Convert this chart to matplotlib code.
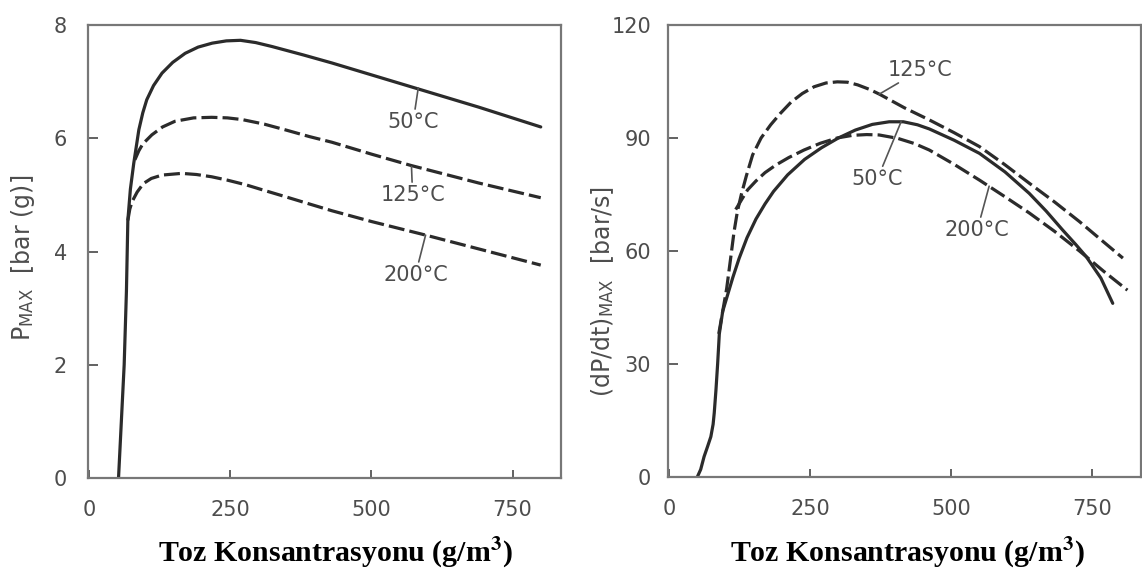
import matplotlib
matplotlib.use("Agg")
import matplotlib.pyplot as plt

plt.rcParams['mathtext.fontset'] = 'stix'

# Maksimum basınç (bar) - toz konsantrasyonu (g/m3)
p50_x = [52, 57, 62, 66, 68.5, 73, 79, 88, 95, 102, 114, 129, 148, 170, 193, 218,
         243, 268, 295, 324, 380, 430, 500, 580, 690, 800]
p50_y = [0, 1.0, 2.0, 3.3, 4.55, 5.1, 5.56, 6.15, 6.45, 6.68, 6.93, 7.15, 7.34, 7.5,
         7.61, 7.68, 7.72, 7.73, 7.69, 7.62, 7.47, 7.33, 7.12, 6.88, 6.55, 6.2]

p125_x = [81, 88, 95, 111, 130, 152, 185, 217, 245, 271, 310, 347, 390, 430, 500,
          570, 690, 800]
p125_y = [5.62, 5.78, 5.9, 6.06, 6.2, 6.3, 6.36, 6.37, 6.36, 6.33, 6.25, 6.15, 6.03,
          5.93, 5.72, 5.52, 5.21, 4.95]

p200_x = [68.5, 72, 76, 85, 96, 110, 129, 164, 190, 217, 245, 277, 310, 347, 390,
          430, 500, 596, 700, 800]
p200_y = [4.55, 4.75, 4.88, 5.05, 5.2, 5.29, 5.35, 5.38, 5.36, 5.32, 5.26, 5.18, 5.08,
          4.97, 4.84, 4.72, 4.53, 4.29, 4.02, 3.76]

# Maksimum basınç artış hızı (bar/s)
r50_x = [50, 56, 62, 68, 74, 78, 80, 83, 86, 89, 95, 103, 113, 124, 138, 154, 170,
         185, 210, 240, 270, 300, 330, 360, 390, 415, 440, 461, 505, 550, 595, 638,
         668, 697, 720, 739, 765, 786]
r50_y = [0, 2, 5.4, 8, 10.7, 14, 17, 23, 30, 38, 44, 48, 53, 58, 63.5, 68.5, 72.5,
         75.8, 80.2, 84.3, 87.4, 90, 92.1, 93.6, 94.3, 94.3, 93.5, 92.4, 89.4, 85.9,
         81, 75.3, 70.6, 65.6, 61.8, 58.5, 52.8, 46.1]

r125_x = [88, 95, 102, 109, 115, 121, 128, 137, 148, 163, 180, 197, 216, 236, 257,
          278, 298, 316, 334, 355, 373, 395, 417, 461, 505, 550, 594, 638, 683, 727,
          765, 804]
r125_y = [38, 44, 50, 58, 65, 70.5, 75, 80, 85.5, 90, 93.5, 96.5, 99.5, 101.8,
          103.6, 104.6, 104.9, 104.8, 104.1, 102.9, 101.6, 99.8, 98, 94.8, 91.4,
          87.7, 83, 78, 73, 67.8, 63, 58.1]

r200_x = [118, 130, 139, 154, 170, 189, 212, 239, 268, 298, 325, 350, 372, 405,
          435, 461, 505, 550, 595, 638, 683, 727, 770, 812]
r200_y = [71, 74, 76.2, 78.6, 80.8, 82.8, 84.8, 86.8, 88.6, 90.0, 90.7, 90.9,
          90.8, 89.9, 88.5, 86.8, 83, 78.8, 74.4, 70.1, 65.2, 60.0, 54.6, 49.6]

x_ticks = [0, 250, 500, 750]
p_ticks = [0, 2, 4, 6, 8]
r_ticks = [0, 30, 60, 90, 120]

x_label = r'Toz Konsantrasyonu (g/m$^{\mathbf{3}}$)'
text_col = '#4d4d4d'
line_col = '#2b2b2b'
dash = (5, 1.6)

fig = plt.figure(figsize=(11.42, 5.70), dpi=100)
ax1 = fig.add_axes([0.0771, 0.1614, 0.4142, 0.7947])
ax2 = fig.add_axes([0.5849, 0.1632, 0.4142, 0.7930])


def style_axes(ax, yticks, ypad):
    ax.set_xlim(-2, 836)
    ax.set_xticks(x_ticks)
    ax.set_yticks(yticks)
    ax.set_ylim(yticks[0], yticks[-1])
    for s in ax.spines.values():
        s.set_color('#777777')
        s.set_linewidth(1.6)
    ax.tick_params(axis='x', direction='in', length=6, width=1.3, color='#555555',
                   pad=16, labelsize=15, labelcolor=text_col)
    ax.tick_params(axis='y', direction='in', length=7, width=1.3, color='#555555',
                   pad=ypad, labelsize=15, labelcolor=text_col)
    ax.set_xlabel(x_label, family='Liberation Serif', fontweight='bold',
                  fontsize=21.5, color='black')


def curve_label(ax, text, xy, xytext):
    ax.annotate(text, xy=xy, xytext=xytext, ha='center', va='center',
                fontsize=15, color=text_col,
                arrowprops=dict(arrowstyle='-', color='#555555', lw=1.2,
                                shrinkA=0, shrinkB=0))


# sol grafik: PMAX
ax1.plot(p50_x, p50_y, color=line_col, lw=2.3, solid_capstyle='round')
ax1.plot(p125_x, p125_y, color=line_col, lw=2.3, dashes=dash)
ax1.plot(p200_x, p200_y, color=line_col, lw=2.3, dashes=dash)
style_axes(ax1, p_ticks, 15)
ax1.set_ylabel(r'P$_{\mathregular{MAX}}$  [bar (g)]', fontsize=17, color=text_col)
ax1.yaxis.set_label_coords(-0.108, 0.486)
ax1.xaxis.set_label_coords(0.522, -0.128)
curve_label(ax1, '50°C', (583, 6.89), (574, 6.29))
curve_label(ax1, '125°C', (571, 5.50), (573, 5.0))
curve_label(ax1, '200°C', (596, 4.29), (578, 3.59))

# sağ grafik: (dP/dt)MAX
ax2.plot(r50_x, r50_y, color=line_col, lw=2.3, solid_capstyle='round')
ax2.plot(r125_x, r125_y, color=line_col, lw=2.3, dashes=dash)
ax2.plot(r200_x, r200_y, color=line_col, lw=2.3, dashes=dash)
style_axes(ax2, r_ticks, 12)
ax2.set_ylabel(r'(dP/dt)$_{\mathregular{MAX}}$  [bar/s]', fontsize=17,
               color=text_col)
ax2.yaxis.set_label_coords(-0.11, 0.41)
ax2.xaxis.set_label_coords(0.507, -0.13)
curve_label(ax2, '125°C', (372, 101.6), (445, 108))
curve_label(ax2, '50°C', (411, 94.3), (369, 79.1))
curve_label(ax2, '200°C', (567, 77.2), (546, 65.6))

fig.savefig('out.png', dpi=100)
